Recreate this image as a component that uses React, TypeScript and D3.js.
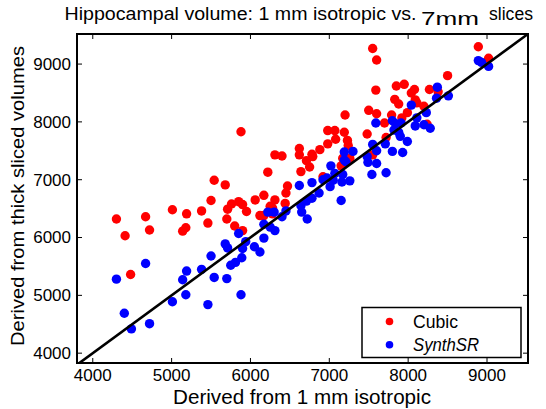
import React from "react";
import * as d3 from "d3";

// values (mm^3)
const xTicks = [4000, 5000, 6000, 7000, 8000, 9000];
const yTicks = [4000, 5000, 6000, 7000, 8000, 9000];
const seriesNames = ["Cubic", "SynthSR"];
const seriesColors = ["#ff0000", "#0000ff"];

// [isotropic, thick sliced]
const cubic: [number, number][] = [
  [4300, 6320], [4410, 6030], [4670, 6360], [4720, 6130], [4480, 5360],
  [5010, 6480], [5190, 6410], [5140, 6110], [5180, 6170], [5380, 6460],
  [5460, 6250], [5500, 6640], [5540, 6990], [5680, 6910], [5700, 6320],
  [5710, 6490], [5760, 6580], [5850, 6620], [5900, 6570], [5800, 6200],
  [5900, 6120], [5950, 6450], [6060, 6650], [6170, 6730], [6120, 6380],
  [6170, 6380], [6250, 6540], [6280, 6510], [6310, 6650], [6280, 6410],
  [6440, 6590], [6450, 6770], [6470, 6890], [5880, 7830], [6220, 7130],
  [6310, 7430], [6400, 7410], [6620, 7540], [6620, 7430], [6640, 7140],
  [6710, 7330], [6750, 7220], [6780, 7440], [6790, 7400], [6880, 7520],
  [6920, 7050], [6980, 7850], [7070, 7850], [7190, 7820], [7080, 7700],
  [6980, 7620], [7230, 7680], [7240, 7590], [7150, 7240], [7170, 7370],
  [7260, 7370], [7200, 8120], [7480, 7790], [7500, 8200], [7600, 8140],
  [7590, 8550], [7550, 9270], [7600, 9070], [7550, 7430], [7700, 7980],
  [7720, 7730], [7790, 8120], [7830, 8390], [7880, 8310], [7850, 8620],
  [7950, 8650], [8080, 8560], [8040, 8500], [8090, 8380], [8110, 8330],
  [8200, 8270], [7990, 8160], [7920, 8070], [8240, 7960], [8270, 8560],
  [8380, 8520], [8500, 8800], [8890, 9300], [9020, 9100],
];

const synthSR: [number, number][] = [
  [4300, 5280], [4400, 4690], [4490, 4420], [4720, 4510], [4670, 5550],
  [5010, 4890], [5140, 5270], [5190, 5420], [5180, 5010], [5380, 5450],
  [5500, 5680], [5540, 5310], [5460, 4840], [5700, 5290], [5680, 5890],
  [5710, 5820], [5750, 5520], [5810, 5570], [5890, 5650], [5880, 5010],
  [5850, 6070], [5900, 5810], [5940, 5930], [6050, 5840], [6120, 5750],
  [6170, 5990], [6170, 6230], [6220, 6440], [6300, 6440], [6250, 6180],
  [6310, 6120], [6400, 6360], [6450, 6460], [6620, 6900], [6780, 6950],
  [6640, 6550], [6650, 6440], [6720, 6320], [6710, 6630], [6780, 6680],
  [6870, 6770], [7010, 6880], [7150, 6640], [6920, 7000], [6970, 7030],
  [7050, 6990], [7160, 6960], [7260, 6980], [7070, 7110], [7170, 7090],
  [7020, 7240], [7190, 7480], [7300, 7490], [7190, 7340], [7210, 7310],
  [7590, 7980], [7550, 7610], [7600, 7500], [7480, 7400], [7490, 7300],
  [7600, 7280], [7540, 7090], [7720, 7120], [7710, 7620], [7800, 7490],
  [7930, 7470], [7990, 7660], [7820, 7860], [7880, 7820], [7900, 7750],
  [7800, 8020], [7840, 7970], [7910, 7980], [8040, 8290], [8110, 8070],
  [8090, 7930], [8230, 8160], [8200, 7950], [8280, 7890], [8370, 8600],
  [8360, 8410], [8510, 8450], [8890, 9060], [8930, 9030], [9020, 8960],
];

const W = 546;
const H = 409;
const plot = { left: 77, right: 528, top: 34, bottom: 363 };
const font = "'Liberation Sans', Arial, Helvetica, sans-serif";

export default function App() {
  const x = d3.scaleLinear().domain([3800, 9520]).range([plot.left, plot.right]);
  const y = d3.scaleLinear().domain([3830, 9520]).range([plot.bottom, plot.top]);
  const diag = d3.line<number>().x((d) => x(d)).y((d) => y(d));
  const tickLen = 5;

  return (
    <svg
      width={W}
      height={H}
      style={{ position: "absolute", left: 0, top: 0, background: "#fff" }}
      fontFamily={font}
    >
      <defs>
        <clipPath id="plotClip">
          <rect x={plot.left} y={plot.top} width={plot.right - plot.left} height={plot.bottom - plot.top} />
        </clipPath>
      </defs>

      {/* title: the reference glyphs are wide, so stretch to its measured extents */}
      <g fill="#000">
        <text x={64.5} y={20} fontSize={17.5} textLength={352} lengthAdjust="spacingAndGlyphs">
          Hippocampal volume: 1 mm isotropic vs.
        </text>
        <text x={421} y={25} fontSize={19} textLength={58} lengthAdjust="spacingAndGlyphs">
          7mm
        </text>
        <text x={489} y={20} fontSize={17.5} textLength={44} lengthAdjust="spacingAndGlyphs">
          slices
        </text>
      </g>

      {/* points */}
      <g clipPath="url(#plotClip)">
        {[cubic, synthSR].map((pts, i) => (
          <g key={i} fill={seriesColors[i]}>
            {pts.map((d, j) => (
              <circle key={j} cx={x(d[0])} cy={y(d[1])} r={4.7} />
            ))}
          </g>
        ))}
        <path d={diag([3800, 9520]) || ""} stroke="#000" strokeWidth={2.6} fill="none" />
      </g>

      {/* ticks on all four sides */}
      <g stroke="#000" strokeWidth={1}>
        {xTicks.map((t) => (
          <g key={"x" + t}>
            <line x1={x(t)} x2={x(t)} y1={plot.bottom} y2={plot.bottom - tickLen} />
            <line x1={x(t)} x2={x(t)} y1={plot.top} y2={plot.top + tickLen} />
          </g>
        ))}
        {yTicks.map((t) => (
          <g key={"y" + t}>
            <line x1={plot.left} x2={plot.left + tickLen} y1={y(t)} y2={y(t)} />
            <line x1={plot.right} x2={plot.right - tickLen} y1={y(t)} y2={y(t)} />
          </g>
        ))}
      </g>
      <rect
        x={plot.left}
        y={plot.top}
        width={plot.right - plot.left}
        height={plot.bottom - plot.top}
        fill="none"
        stroke="#000"
        strokeWidth={2}
      />

      {/* tick labels */}
      <g fontSize={17} fill="#000">
        {xTicks.map((t) => (
          <text key={"xl" + t} x={x(t)} y={381} textAnchor="middle">
            {t}
          </text>
        ))}
        {yTicks.map((t) => (
          <text key={"yl" + t} x={71} y={y(t)} dy="0.35em" textAnchor="end">
            {t}
          </text>
        ))}
      </g>

      {/* axis titles */}
      <text
        x={173}
        y={404}
        fontSize={19.3}
        fill="#000"
        textLength={258}
        lengthAdjust="spacingAndGlyphs"
      >
        Derived from 1 mm isotropic
      </text>
      <text
        transform={`translate(24, 346) rotate(-90)`}
        fontSize={19}
        fill="#000"
        textLength={300}
        lengthAdjust="spacingAndGlyphs"
      >
        Derived from thick sliced volumes
      </text>

      {/* legend */}
      <g>
        <rect x={362} y={307.5} width={159} height={50} fill="#fff" stroke="#000" strokeWidth={1.5} />
        {seriesNames.map((name, i) => (
          <g key={name}>
            <circle cx={389.5} cy={321.5 + i * 23.3} r={3.8} fill={seriesColors[i]} />
            <text
              x={413}
              y={328 + i * 23.3}
              fontSize={18.5}
              fontStyle={i === 1 ? "italic" : "normal"}
              fill="#000"
              textLength={i === 1 ? 66 : 45}
              lengthAdjust="spacingAndGlyphs"
            >
              {name}
            </text>
          </g>
        ))}
      </g>
    </svg>
  );
}
